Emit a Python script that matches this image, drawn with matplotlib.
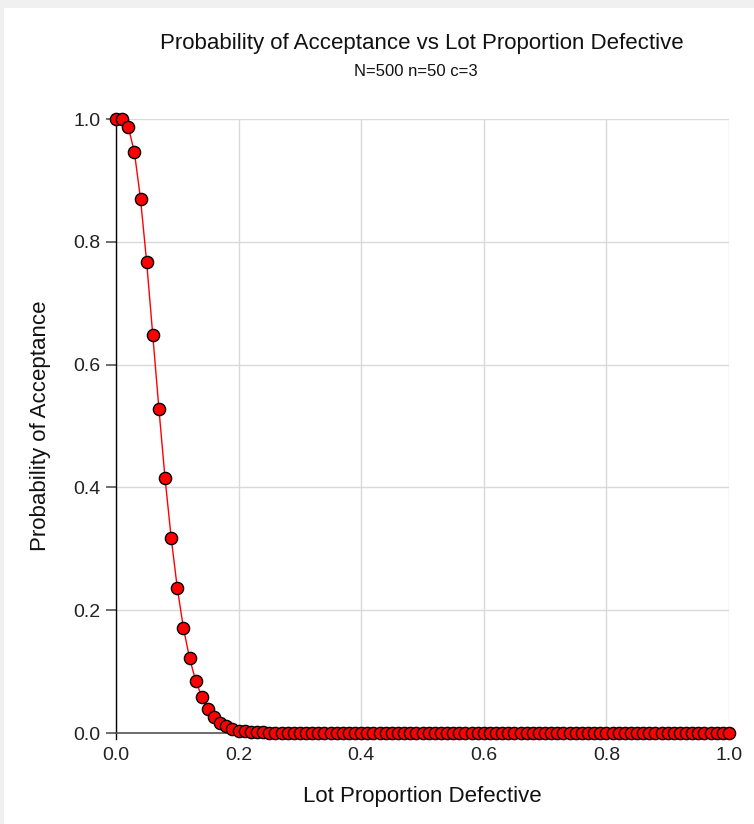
import matplotlib
matplotlib.use("Agg")
import matplotlib.pyplot as plt
from matplotlib.patches import Rectangle

plt.rcParams['font.family'] = ['Liberation Sans', 'DejaVu Sans']

title = "Probability of Acceptance vs Lot Proportion Defective"
subtitle = "N=500 n=50 c=3"
x_label = "Lot Proportion Defective"
y_label = "Probability of Acceptance"

proportion_defective = [
    0.00, 0.01, 0.02, 0.03, 0.04, 0.05, 0.06, 0.07, 0.08, 0.09,
    0.10, 0.11, 0.12, 0.13, 0.14, 0.15, 0.16, 0.17, 0.18, 0.19,
    0.20, 0.21, 0.22, 0.23, 0.24, 0.25, 0.26, 0.27, 0.28, 0.29,
    0.30, 0.31, 0.32, 0.33, 0.34, 0.35, 0.36, 0.37, 0.38, 0.39,
    0.40, 0.41, 0.42, 0.43, 0.44, 0.45, 0.46, 0.47, 0.48, 0.49,
    0.50, 0.51, 0.52, 0.53, 0.54, 0.55, 0.56, 0.57, 0.58, 0.59,
    0.60, 0.61, 0.62, 0.63, 0.64, 0.65, 0.66, 0.67, 0.68, 0.69,
    0.70, 0.71, 0.72, 0.73, 0.74, 0.75, 0.76, 0.77, 0.78, 0.79,
    0.80, 0.81, 0.82, 0.83, 0.84, 0.85, 0.86, 0.87, 0.88, 0.89,
    0.90, 0.91, 0.92, 0.93, 0.94, 0.95, 0.96, 0.97, 0.98, 0.99,
    1.00,
]

prob_acceptance = [
    1.000, 1.000, 0.987, 0.946, 0.870, 0.767, 0.648, 0.528, 0.415, 0.318,
    0.236, 0.171, 0.122, 0.085, 0.059, 0.039, 0.026, 0.017, 0.011, 0.007,
    0.004, 0.003, 0.002, 0.001, 0.001, 0.000, 0.000, 0.000, 0.000, 0.000,
    0.000, 0.000, 0.000, 0.000, 0.000, 0.000, 0.000, 0.000, 0.000, 0.000,
    0.000, 0.000, 0.000, 0.000, 0.000, 0.000, 0.000, 0.000, 0.000, 0.000,
    0.000, 0.000, 0.000, 0.000, 0.000, 0.000, 0.000, 0.000, 0.000, 0.000,
    0.000, 0.000, 0.000, 0.000, 0.000, 0.000, 0.000, 0.000, 0.000, 0.000,
    0.000, 0.000, 0.000, 0.000, 0.000, 0.000, 0.000, 0.000, 0.000, 0.000,
    0.000, 0.000, 0.000, 0.000, 0.000, 0.000, 0.000, 0.000, 0.000, 0.000,
    0.000, 0.000, 0.000, 0.000, 0.000, 0.000, 0.000, 0.000, 0.000, 0.000,
    0.000,
]

x_ticks = [0.0, 0.2, 0.4, 0.6, 0.8, 1.0]
y_ticks = [0.0, 0.2, 0.4, 0.6, 0.8, 1.0]

fig = plt.figure(figsize=(7.54, 8.24), dpi=100)
fig.patch.set_facecolor('white')
# light gray frame strips (top and left)
fig.patches.append(Rectangle((0, 1 - 8/824), 1, 8/824, transform=fig.transFigure,
                             facecolor='#f0f0f0', edgecolor='none', zorder=0))
fig.patches.append(Rectangle((0, 0), 4/754, 1, transform=fig.transFigure,
                             facecolor='#f0f0f0', edgecolor='none', zorder=0))

ax = fig.add_axes([116/754, (824-733)/824, (729-116)/754, (733-119)/824])
ax.set_xlim(0, 1)
ax.set_ylim(0, 1)

ax.plot(proportion_defective, prob_acceptance, color='red', lw=1.0, zorder=3,
        marker='o', markersize=8.8, markerfacecolor='red',
        markeredgecolor='black', markeredgewidth=1.0, clip_on=False)

ax.set_xticks(x_ticks)
ax.set_yticks(y_ticks)
ax.set_xticklabels([f"{v:.1f}" for v in x_ticks])
ax.set_yticklabels([f"{v:.1f}" for v in y_ticks])
ax.grid(True, color='#d9d9d9', lw=1.0)
ax.set_axisbelow(True)

for s in ['top', 'right']:
    ax.spines[s].set_visible(False)
ax.spines['left'].set_color('black')
ax.spines['left'].set_linewidth(1.0)
ax.spines['left'].set_bounds(-0.01, 1)
ax.spines['bottom'].set_color('#555555')
ax.spines['bottom'].set_linewidth(1.2)

ax.tick_params(axis='y', length=7, width=1.2, color='#555555', labelsize=14,
               labelcolor='#222222', pad=4, direction='out')
ax.tick_params(axis='x', length=0, labelsize=14, labelcolor='#222222', pad=10)

ax.set_xlabel(x_label, fontsize=16, color='#111111')
ax.set_ylabel(y_label, fontsize=16, color='#111111')
ax.xaxis.set_label_coords(0.5, (733 - 786) / 614)
ax.yaxis.set_label_coords((51 - 116) / 613, 0.5)

fig.text(422/754, 1 - 43/824, title, ha='center', va='center', fontsize=16, color='#111111')
fig.text(416/754, 1 - 72/824, subtitle, ha='center', va='center', fontsize=12, color='#111111')

fig.savefig('out.png', dpi=100)
